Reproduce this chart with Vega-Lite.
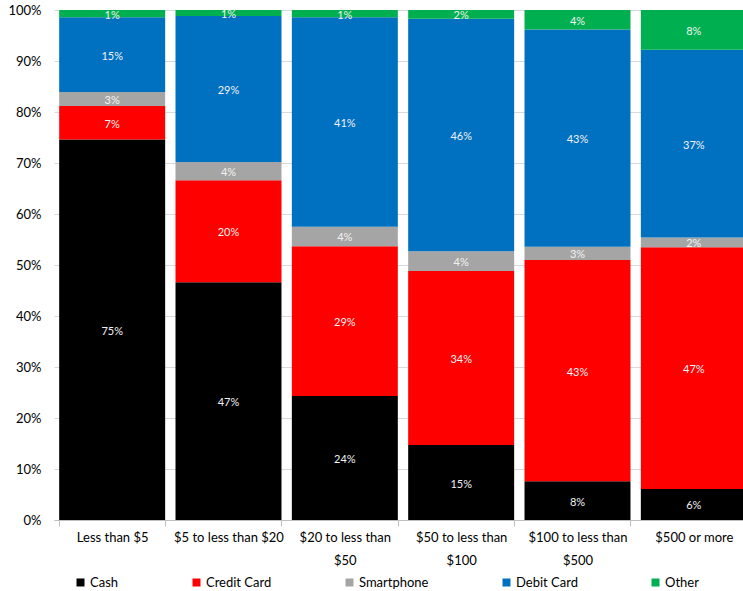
{
  "$schema": "https://vega.github.io/schema/vega-lite/v6.json",
  "autosize": {"type": "none"},
  "padding": {"left": 54, "top": 10, "right": 0, "bottom": 71},
  "width": 689,
  "height": 510,
  "background": "white",
  "config": {
    "font": "Lato",
    "view": {"stroke": null}
  },
  "data": {
    "values": [
      {"range": "Less than $5", "method": "Cash", "k": 1, "share": 0.746},
      {"range": "Less than $5", "method": "Credit Card", "k": 2, "share": 0.066},
      {"range": "Less than $5", "method": "Smartphone", "k": 3, "share": 0.027},
      {"range": "Less than $5", "method": "Debit Card", "k": 4, "share": 0.147},
      {"range": "Less than $5", "method": "Other", "k": 5, "share": 0.014},
      {"range": "$5 to less than $20", "method": "Cash", "k": 1, "share": 0.466},
      {"range": "$5 to less than $20", "method": "Credit Card", "k": 2, "share": 0.200},
      {"range": "$5 to less than $20", "method": "Smartphone", "k": 3, "share": 0.036},
      {"range": "$5 to less than $20", "method": "Debit Card", "k": 4, "share": 0.286},
      {"range": "$5 to less than $20", "method": "Other", "k": 5, "share": 0.012},
      {"range": "$20 to less than $50", "method": "Cash", "k": 1, "share": 0.243},
      {"range": "$20 to less than $50", "method": "Credit Card", "k": 2, "share": 0.294},
      {"range": "$20 to less than $50", "method": "Smartphone", "k": 3, "share": 0.038},
      {"range": "$20 to less than $50", "method": "Debit Card", "k": 4, "share": 0.411},
      {"range": "$20 to less than $50", "method": "Other", "k": 5, "share": 0.014},
      {"range": "$50 to less than $100", "method": "Cash", "k": 1, "share": 0.147},
      {"range": "$50 to less than $100", "method": "Credit Card", "k": 2, "share": 0.341},
      {"range": "$50 to less than $100", "method": "Smartphone", "k": 3, "share": 0.039},
      {"range": "$50 to less than $100", "method": "Debit Card", "k": 4, "share": 0.456},
      {"range": "$50 to less than $100", "method": "Other", "k": 5, "share": 0.017},
      {"range": "$100 to less than $500", "method": "Cash", "k": 1, "share": 0.076},
      {"range": "$100 to less than $500", "method": "Credit Card", "k": 2, "share": 0.434},
      {"range": "$100 to less than $500", "method": "Smartphone", "k": 3, "share": 0.026},
      {"range": "$100 to less than $500", "method": "Debit Card", "k": 4, "share": 0.426},
      {"range": "$100 to less than $500", "method": "Other", "k": 5, "share": 0.038},
      {"range": "$500 or more", "method": "Cash", "k": 1, "share": 0.061},
      {"range": "$500 or more", "method": "Credit Card", "k": 2, "share": 0.474},
      {"range": "$500 or more", "method": "Smartphone", "k": 3, "share": 0.019},
      {"range": "$500 or more", "method": "Debit Card", "k": 4, "share": 0.368},
      {"range": "$500 or more", "method": "Other", "k": 5, "share": 0.078}
    ]
  },
  "transform": [
    {"stack": "share", "groupby": ["range"], "sort": [{"field": "k", "order": "ascending"}], "as": ["y0", "y1"]}
  ],
  "encoding": {
    "x": {
      "field": "range",
      "type": "nominal",
      "sort": ["Less than $5", "$5 to less than $20", "$20 to less than $50", "$50 to less than $100", "$100 to less than $500", "$500 or more"],
      "scale": {"range": [0, 698], "paddingInner": 0.089, "paddingOuter": 0.0445},
      "axis": {
        "title": null,
        "labelAngle": 0,
        "labelFont": "Lato",
        "labelFontSize": 13,
        "labelColor": "#000000",
        "labelPadding": 11,
        "labelLineHeight": 23,
        "labelBaseline": "middle",
        "labelLimit": 200,
        "labelExpr": "datum.label == '$5 to less than $20' || length(datum.label) < 16 ? datum.label : [substring(datum.label, 0, lastindexof(datum.label, ' ')), substring(datum.label, lastindexof(datum.label, ' ') + 1)]",
        "tickBand": "extent",
        "ticks": true,
        "tickSize": 6,
        "tickColor": "#bfbfbf",
        "domainColor": "#bfbfbf",
        "grid": false
      }
    }
  },
  "layer": [
    {
      "mark": {"type": "bar"},
      "encoding": {
        "y": {
          "field": "y0",
          "type": "quantitative",
          "scale": {"domain": [0, 1], "nice": false},
          "axis": {
            "title": null,
            "values": [0, 0.1, 0.2, 0.3, 0.4, 0.5, 0.6, 0.7, 0.8, 0.9, 1],
            "format": ".0%",
            "labelFont": "Lato",
            "labelFontSize": 13,
            "labelColor": "#000000",
            "labelPadding": 13,
            "ticks": false,
            "domain": false,
            "grid": true,
            "gridColor": "#d9d9d9",
            "gridWidth": 1
          }
        },
        "y2": {"field": "y1"},
        "color": {
          "field": "method",
          "type": "nominal",
          "sort": ["Cash", "Credit Card", "Smartphone", "Debit Card", "Other"],
          "scale": {
            "domain": ["Cash", "Credit Card", "Smartphone", "Debit Card", "Other"],
            "range": ["#000000", "#ff0000", "#a5a5a5", "#0070c0", "#00b050"]
          },
          "legend": {
            "title": null,
            "orient": "none",
            "legendX": 20,
            "legendY": 566,
            "direction": "horizontal",
            "columns": 5,
            "gridAlign": "none",
            "columnPadding": 71,
            "symbolType": "square",
            "symbolSize": 64,
            "symbolStrokeWidth": 0,
            "symbolOffset": 0,
            "labelOffset": 3,
            "labelFont": "Lato",
            "labelFontSize": 13,
            "labelColor": "#000000"
          }
        }
      }
    },
    {
      "transform": [
        {"fold": ["y0", "y1"], "as": ["edge", "pos"]},
        {"aggregate": [{"op": "mean", "field": "pos", "as": "mid"}], "groupby": ["range", "method", "share"]}
      ],
      "mark": {"type": "text", "color": "#f2f2f2", "fontSize": 11, "font": "Lato", "baseline": "middle", "align": "center", "dy": 2},
      "encoding": {
        "y": {"field": "mid", "type": "quantitative"},
        "text": {"field": "share", "type": "quantitative", "format": ".0%"}
      }
    }
  ]
}
